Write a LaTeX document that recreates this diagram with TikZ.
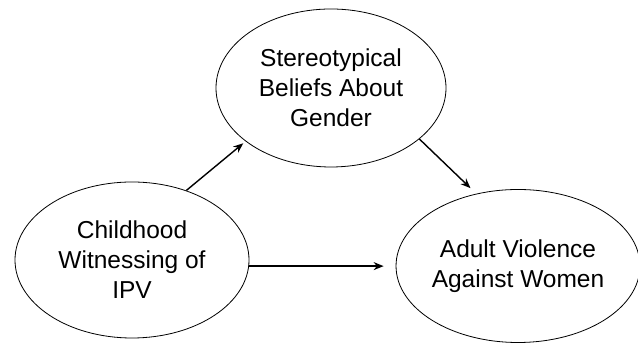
\documentclass[tikz,border=0pt]{standalone}
\usepackage{fontspec}
\setmainfont{Liberation Sans}
\usetikzlibrary{arrows.meta,shapes.geometric}
\tikzset{
  >={Stealth[length=10pt,width=8pt]},
  construct/.style={draw=black,ellipse,line width=0.8pt,align=center,
    inner sep=0pt,font=\fontsize{24.5}{30}\selectfont},
  effect/.style={->,line width=1.4pt},
}
\begin{document}
\begin{tikzpicture}[x=1pt,y=1pt]
  \useasboundingbox (0,0) rectangle (638,344);
  \node[construct,minimum width=234pt,minimum height=156pt] (child) at (132,84)
    {Childhood\\Witnessing of\\IPV};
  \node[construct,minimum width=230pt,minimum height=158pt] (beliefs) at (331,256)
    {Stereotypical\\Beliefs About\\Gender};
  \node[construct,minimum width=236pt,minimum height=153pt] (violence) at (518,78)
    {Adult Violence\\Against Women};
  \draw[effect,shorten >=3pt] (child.52) -- (beliefs.212);
  \draw[effect,shorten >=8pt] (beliefs.-30) -- (violence.120);
  \draw[effect,shorten >=12pt] (child.-3) -- (child.-3 -| violence.west);
\end{tikzpicture}
\end{document}
